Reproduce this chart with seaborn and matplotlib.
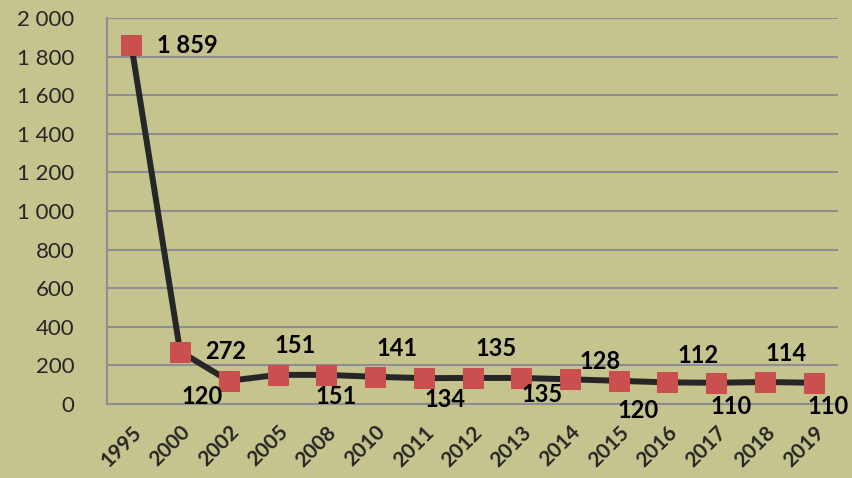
import numpy as np
import pandas as pd
import matplotlib
matplotlib.use("Agg")
import matplotlib.pyplot as plt
import seaborn as sns

# chart data
years = ["1995", "2000", "2002", "2005", "2008", "2010", "2011", "2012",
         "2013", "2014", "2015", "2016", "2017", "2018", "2019"]
values = [1859, 272, 120, 151, 151, 141, 134, 135, 135, 128, 120, 112, 110, 114, 110]
y_ticks = [0, 200, 400, 600, 800, 1000, 1200, 1400, 1600, 1800, 2000]

# where each value label sits relative to its marker (pixels)
label_offsets = [(26, 0), (46, 0), (-27, -16), (18, 29), (10, -22), (22, 28), (21, -21),
                 (24, 29), (21, -17), (30, 18), (19, -30), (31, 27), (15, -24), (21, 29), (14, -24)]

bg = "#c5c48e"
grid_col = "#8e8e92"

sns.set_style("white")
plt.rcParams['font.family'] = ['Lato', 'DejaVu Sans']

df = pd.DataFrame({"pos": np.arange(len(years)), "value": values})

fig = plt.figure(figsize=(8.52, 4.78), dpi=100)
fig.patch.set_facecolor(bg)
ax = fig.add_axes([0.1256, 0.1548, 0.858, 0.8075])
ax.set_facecolor(bg)

sns.lineplot(data=df, x="pos", y="value", ax=ax, color="#262626", linewidth=4.3,
             marker="s", markersize=14, markerfacecolor="#c9504e",
             markeredgecolor="#c9504e", zorder=3)

# value labels
for i, v in enumerate(values):
    dx, dy = label_offsets[i]
    ha = "left" if i == 0 else "center"
    ax.annotate(f"{v:,}".replace(",", " "), (i, v), xytext=(dx, dy),
                textcoords="offset pixels", ha=ha, va="center",
                fontsize=17, fontweight="bold", color="black", zorder=4)

ax.set_xlim(-0.5, len(years) - 0.5)
ax.set_ylim(0, 2000)
ax.set_yticks(y_ticks)
ax.set_yticklabels([f"{t:,}".replace(",", " ") for t in y_ticks], fontsize=16)
ax.set_xticks(np.arange(len(years)))
ax.set_xticklabels(years, rotation=45, ha="right", rotation_mode="anchor",
                   fontsize=15, fontweight="bold")
ax.set_xticks(np.arange(len(years) + 1) - 0.5, minor=True)
ax.tick_params(axis="x", which="major", length=0, pad=13)
ax.tick_params(axis="x", which="minor", length=5, width=1.5, color=grid_col, direction="out")
ax.tick_params(axis="y", length=6.5, width=1.5, color=grid_col, pad=17)

ax.grid(axis="y", color=grid_col, linewidth=1.5)
ax.set_axisbelow(True)
for side in ["top", "right"]:
    ax.spines[side].set_visible(False)
for side in ["left", "bottom"]:
    ax.spines[side].set_color(grid_col)
    ax.spines[side].set_linewidth(1.5)
ax.set_xlabel("")
ax.set_ylabel("")

plt.savefig("out.png", dpi=100, facecolor=bg)
